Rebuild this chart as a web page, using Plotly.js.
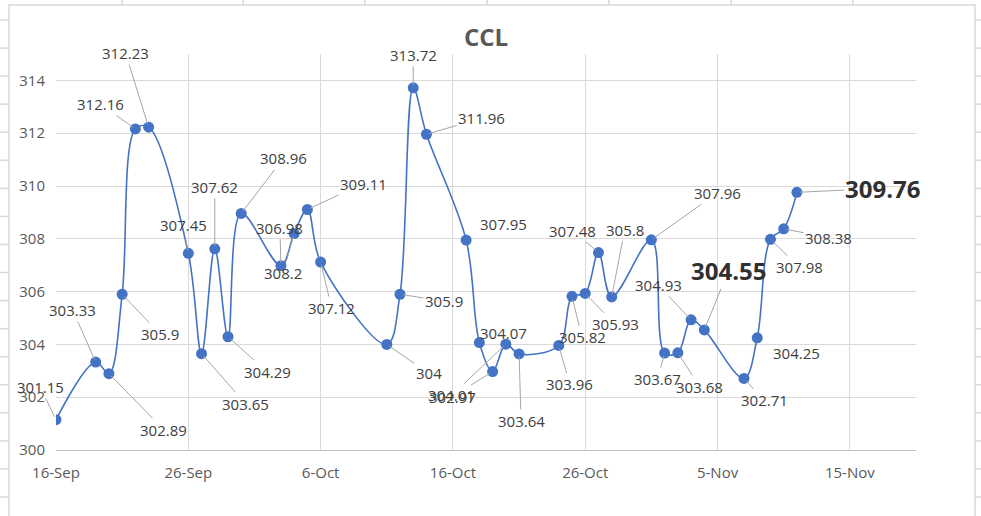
<!DOCTYPE html>
<html>
<head>
<meta charset="utf-8">
<script src="https://cdn.plot.ly/plotly-3.0.1.min.js"></script>
<style>html,body{margin:0;padding:0;background:#fff;}#chart{width:981px;height:516px;}</style>
</head>
<body>
<div id="chart"></div>
<script>
// ---- data ----
const dates = ['2022-09-16','2022-09-19','2022-09-20','2022-09-21','2022-09-22','2022-09-23',
  '2022-09-26','2022-09-27','2022-09-28','2022-09-29','2022-09-30',
  '2022-10-03','2022-10-04','2022-10-05','2022-10-06',
  '2022-10-11','2022-10-12','2022-10-13','2022-10-14',
  '2022-10-17','2022-10-18','2022-10-19','2022-10-20','2022-10-21',
  '2022-10-24','2022-10-25','2022-10-26','2022-10-27','2022-10-28',
  '2022-10-31','2022-11-01','2022-11-02','2022-11-03','2022-11-04',
  '2022-11-07','2022-11-08','2022-11-09','2022-11-10','2022-11-11'];
const ccl = [301.15,303.33,302.89,305.9,312.16,312.23,
  307.45,303.65,307.62,304.29,308.96,
  306.98,308.2,309.11,307.12,
  304,305.9,313.72,311.96,
  307.95,304.07,302.97,304.01,303.64,
  303.96,305.82,305.93,307.48,305.8,
  307.96,303.67,303.68,304.93,304.55,
  302.71,304.25,307.98,308.38,309.76];
const titleText = 'CCL';

// ---- label placement (pixel offsets from each point) ----
const labelDx = [-16,-23,55,38,-35,-23,
  -5,44,0,39,42,
  -1,-11,56,11,
  42,44,0,55,
  37,24,-40,-54,2,
  11,10,30,-26,13,
  66,-7,22,-33,24,
  20,39,29,45,86];
const labelDy = [-33,-52,56,40,-25,-74,
  -28,50,-62,35,-55,
  -38,39,-26,46,
  29,7,-33,-16,
  -16,-10,25,51,67,
  39,41,31,-22,-67,
  -47,26,34,-35,-59,
  22,15,28,9,-4];
const noLeader = [19,20,35];      // indices drawn without leader line
const emphasised = [33,38];       // big bold labels

const blue = '#4472C4';
const annotations = ccl.map((v,i)=>{
  const big = emphasised.includes(i);
  return {
    x: dates[i], y: v, xref:'x', yref:'y',
    text: big ? '<b>'+String(v)+'</b>' : String(v),
    showarrow: true, arrowhead: 0, arrowwidth: 1, standoff: 3,
    arrowcolor: noLeader.includes(i) ? 'rgba(0,0,0,0)' : '#A6A6A6',
    ax: labelDx[i], ay: labelDy[i],
    font: {family:'Open Sans, sans-serif', size: big ? 24 : 15, color: big ? '#303030' : '#404040'}
  };
});

// decoration: chart border & surrounding spreadsheet cell lines (pixel -> paper)
const L=56, R=65, T=54, B=66, W=981, H=516;
const pw = W-L-R, ph = H-T-B;
const px = p => (p-L)/pw;
const py = p => (H-B-p)/ph;
const shapes = [];
shapes.push({type:'rect', xref:'paper', yref:'paper', x0:px(9), x1:px(975), y0:py(5), y1:py(540),
  line:{color:'#D9D9D9', width:1.5}, layer:'below'});
[122,243,365,487,609,731,853].forEach(c=>shapes.push({type:'line', xref:'paper', yref:'paper',
  x0:px(c), x1:px(c), y0:py(0), y1:py(5), line:{color:'#D9D9D9', width:1.5}}));
for(let k=0;k<18;k++){
  const r = 20 + 28.06*k;
  shapes.push({type:'line', xref:'paper', yref:'paper', x0:px(0), x1:px(9), y0:py(r), y1:py(r), line:{color:'#D9D9D9', width:1.5}});
  shapes.push({type:'line', xref:'paper', yref:'paper', x0:px(975), x1:px(981), y0:py(r), y1:py(r), line:{color:'#D9D9D9', width:1.5}});
}

const trace = {
  x: dates, y: ccl, type:'scatter', mode:'lines+markers',
  line:{color:blue, width:1.6, shape:'spline', smoothing:1},
  marker:{color:blue, size:11},
  hoverinfo:'x+y'
};

const layout = {
  width: W, height: H,
  margin:{l:L, r:R, t:T, b:B, pad:0},
  paper_bgcolor:'#fff', plot_bgcolor:'#fff',
  showlegend:false,
  title:{text:'<b>'+titleText+'</b>', x:0.5, xref:'paper', y:1-38/H, yanchor:'middle',
    font:{family:'Open Sans, sans-serif', size:24, color:'#595959'}},
  xaxis:{type:'date', range:['2022-09-16','2022-11-20'], tick0:'2022-09-16', dtick:864000000,
    tickformat:'%-d-%b', showgrid:true, gridcolor:'#D9D9D9', gridwidth:1,
    showline:true, linecolor:'#BFBFBF', linewidth:1, ticks:'', zeroline:false,
    ticklabelstandoff:9,
    tickfont:{family:'Open Sans, sans-serif', size:15, color:'#595959'}},
  yaxis:{range:[300,315], tick0:300, dtick:2, showgrid:true, gridcolor:'#D9D9D9', gridwidth:1,
    showline:false, zeroline:false, ticks:'', ticklabelstandoff:10,
    tickfont:{family:'Open Sans, sans-serif', size:15, color:'#595959'}},
  annotations: annotations,
  shapes: shapes
};

Plotly.newPlot('chart',[trace],layout,{displayModeBar:false, staticPlot:true});
</script>
</body>
</html>
